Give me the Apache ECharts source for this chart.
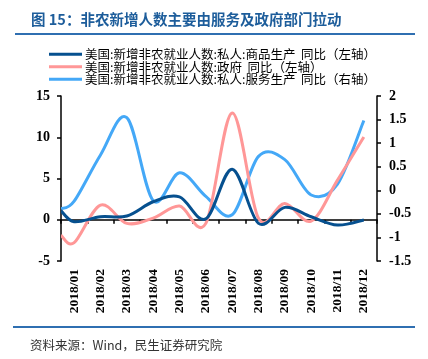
<!DOCTYPE html>
<html><head><meta charset="utf-8">
<script src="https://cdn.jsdelivr.net/npm/echarts@6/dist/echarts.min.js"></script>
<style>html,body{margin:0;padding:0;background:#fff}#c{width:428px;height:359px}</style>
</head><body><div id="c"></div>
<script>
var months = ['2018/01','2018/02','2018/03','2018/04','2018/05','2018/06','2018/07','2018/08','2018/09','2018/10','2018/11','2018/12'];
// value at left edge of axis (curve enters plot), then monthly values
var goodsStart = 1.1;
var goods = [-0.24, 0.36, 0.45, 2.18, 2.78, 0.1, 6.13, -0.44, 1.5, 0.36, -0.64, -0.04];
var govStart = -1.9;
var gov = [-2.78, 1.78, -0.44, 0.2, 1.66, -0.44, 12.94, 0.17, 1.98, -0.16, 4.8, 10.04];
var servStart = -0.39;
var serv = [-0.23, 0.75, 1.54, -0.22, 0.37, -0.13, -0.52, 0.72, 0.65, -0.1, 0.13, 1.48];
var leftTicks = {min: -5, max: 15, interval: 5};
var rightTicks = {min: -1.5, max: 2, interval: 0.5};
var names = ['美国:新增非农就业人数:私人:商品生产  同比（左轴）','美国:新增非农就业人数:政府  同比（左轴）','美国:新增非农就业人数:私人:服务生产  同比（右轴）'];
var colors = ['#06508f', '#ff9797', '#44a8f7'];

function pts(start, arr){ var r=[[0,start]]; arr.forEach(function(v,i){ r.push([i+0.5, v]); }); return r; }

// smooth curve (Catmull-Rom style) through points mapped by the chart's own axes
function smoothSeries(name, data, yIdx, color, z){
  return {
    name:name, type:'custom', xAxisIndex:1, yAxisIndex:yIdx, data:data, z:z, clip:true,
    encode:{x:0, y:1}, itemStyle:{color:color},
    renderItem:function(params, api){
      if (params.dataIndex !== 0) return null;
      var p = data.map(function(d){ return api.coord(d); });
      var n = p.length, k = 1/6;
      var s = 'M' + p[0][0] + ' ' + p[0][1];
      for (var i=0;i<n-1;i++){
        var a = p[Math.max(i-1,0)], b = p[i], c = p[i+1], d = p[Math.min(i+2,n-1)];
        var c1x = b[0] + (c[0]-a[0])*k, c1y = b[1] + (c[1]-a[1])*k;
        var c2x = c[0] - (d[0]-b[0])*k, c2y = c[1] - (d[1]-b[1])*k;
        s += ' C' + c1x + ' ' + c1y + ' ' + c2x + ' ' + c2y + ' ' + c[0] + ' ' + c[1];
      }
      return {type:'path', shape:{pathData:s}, style:{fill:null, stroke:color, lineWidth:3, lineJoin:'round', lineCap:'butt'}};
    }
  };
}

var serifB = {fontFamily:'Liberation Serif', fontWeight:'bold', color:'#000'};
var axisLine = {show:true, lineStyle:{color:'#000', width:1.5}};
var tick = {show:true, length:4, lineStyle:{color:'#000', width:1.5}};
var chart = echarts.init(document.getElementById('c'), null, {renderer:'canvas'});
chart.setOption({
  animation:false,
  backgroundColor:'#fff',
  grid:{left:61, right:51, top:96, bottom:98, containLabel:false},
  legend:{
    orient:'vertical', left:44, top:43, itemGap:0, itemWidth:33, itemHeight:3,
    icon:'rect',
    textStyle:{fontFamily:'Noto Sans CJK SC', fontSize:12.5, color:'#000', lineHeight:12, padding:[0,0,0,-2]},
    data:names
  },
  xAxis:[{
    type:'category', data:months, boundaryGap:true, position:'bottom',
    axisLine:axisLine, axisTick:Object.assign({interval:0}, tick),
    axisLabel:Object.assign({rotate:90, fontSize:13.5, interval:0, margin:8}, serifB),
    splitLine:{show:false}
  },{
    type:'value', min:0, max:12, show:false
  }],
  yAxis:[{
    type:'value', position:'left', min:leftTicks.min, max:leftTicks.max, interval:leftTicks.interval,
    axisLine:axisLine, axisTick:tick,
    axisLabel:Object.assign({fontSize:14, margin:11}, serifB), splitLine:{show:false}
  },{
    type:'value', position:'right', min:rightTicks.min, max:rightTicks.max, interval:rightTicks.interval,
    axisLine:axisLine, axisTick:tick,
    axisLabel:Object.assign({fontSize:14, margin:12}, serifB), splitLine:{show:false}
  }],
  series:[
    smoothSeries(names[0], pts(goodsStart, goods), 0, colors[0], 3),
    smoothSeries(names[1], pts(govStart, gov), 0, colors[1], 2),
    smoothSeries(names[2], pts(servStart, serv), 1, colors[2], 1)
  ],
  graphic:[
    {type:'text', left:31, top:12, style:{text:'图 15：非农新增人数主要由服务及政府部门拉动', font:'bold 14.5px "Noto Sans CJK SC"', fill:'#1d5d9b'}},
    {type:'rect', shape:{x:15, y:33, width:400, height:2}, style:{fill:'#2f6fb1'}},
    {type:'rect', shape:{x:13, y:326, width:402, height:2}, style:{fill:'#2f6fb1'}},
    {type:'text', left:30, top:339, style:{text:'资料来源：Wind，民生证券研究院', font:'12.5px "Noto Sans CJK SC"', fill:'#333'}}
  ]
});
</script></body></html>
